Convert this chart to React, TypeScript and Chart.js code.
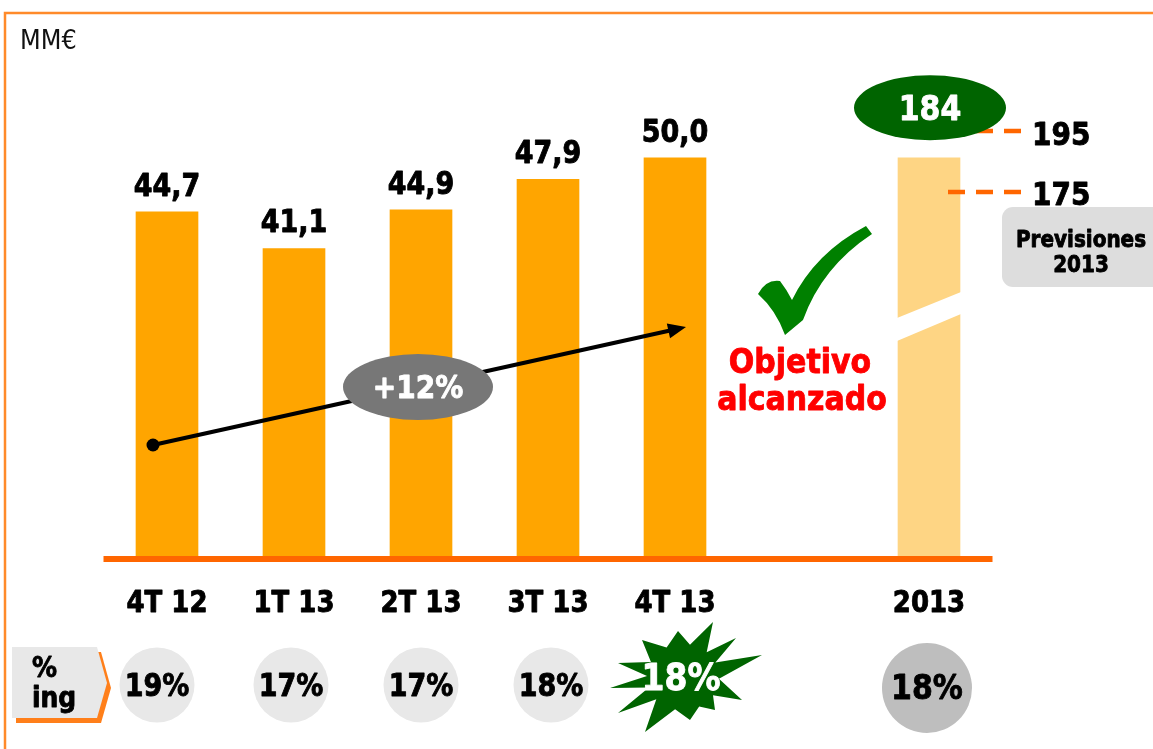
import React, { useEffect, useRef } from "react";
import { Chart, registerables } from "chart.js";
Chart.register(...registerables);

// ---- data ----
const categories = ["4T 12", "1T 13", "2T 13", "3T 13", "4T 13", "", "2013"];
const quarterlyValues = [44.7, 41.1, 44.9, 47.9, 50.0];
const annualValue = 184;
const annualDrawnHeight = 50.0; // broken bar, drawn level with 4T 13
const forecastHigh = 195;
const forecastLow = 175;
const pctIngresos: (number | null)[] = [19, 17, 17, 18, 18, null, 18];
const growthLabel = "+12%";
const unitLabel = "MM€";
const forecastTitle = ["Previsiones", "2013"];
const goalText = ["Objetivo", "alcanzado"];
const pctTitle = ["%", "ing"];

const barData: (number | null)[] = [...quarterlyValues, null, annualDrawnHeight];

const FONT = '"DejaVu Sans", Verdana, sans-serif';
const ORANGE = "#FFA500";
const ORANGE_LIGHT = "#FED584";
const AXIS = "#FF6600";

function txt(
  ctx: CanvasRenderingContext2D,
  s: string,
  x: number,
  y: number,
  size: number,
  color: string,
  align: CanvasTextAlign = "center",
  bold = true,
  sy = 1.15
) {
  ctx.save();
  ctx.font = `${bold ? "bold " : ""}${size}px ${FONT}`;
  ctx.fillStyle = color;
  ctx.strokeStyle = color;
  ctx.lineWidth = bold ? 0.8 : 0;
  ctx.lineJoin = "round";
  ctx.textAlign = align;
  ctx.textBaseline = "alphabetic";
  ctx.translate(x, y);
  ctx.scale(1, sy);
  ctx.fillText(s, 0, 0);
  if (bold) ctx.strokeText(s, 0, 0);
  ctx.restore();
}

function ellipse(ctx: CanvasRenderingContext2D, cx: number, cy: number, rx: number, ry: number, color: string) {
  ctx.save();
  ctx.beginPath();
  ctx.ellipse(cx, cy, rx, ry, 0, 0, Math.PI * 2);
  ctx.fillStyle = color;
  ctx.fill();
  ctx.restore();
}

function poly(ctx: CanvasRenderingContext2D, pts: number[][], color: string) {
  ctx.save();
  ctx.beginPath();
  pts.forEach((p, i) => (i ? ctx.lineTo(p[0], p[1]) : ctx.moveTo(p[0], p[1])));
  ctx.closePath();
  ctx.fillStyle = color;
  ctx.fill();
  ctx.restore();
}

const fmt = (v: number) => v.toFixed(1).replace(".", ",");

const decorPlugin = {
  id: "decor",
  afterDatasetsDraw(chart: any) {
    const ctx: CanvasRenderingContext2D = chart.ctx;
    const area = chart.chartArea;
    const bars = chart.getDatasetMeta(0).data;
    const xs = chart.scales.x;

    // frame
    ctx.save();
    ctx.strokeStyle = "#FF8A2A";
    ctx.lineWidth = 2.5;
    ctx.beginPath();
    ctx.moveTo(5, 749);
    ctx.lineTo(5, 13);
    ctx.lineTo(1153, 13);
    ctx.stroke();
    ctx.restore();

    txt(ctx, unitLabel, 20, 49, 24, "#111", "left", false, 1.1);

    // break in 2013 bar
    const b6 = bars[6];
    const hw = b6.width / 2 + 1;
    poly(ctx, [[b6.x - hw, 341], [b6.x + hw, 314], [b6.x + hw, 292], [b6.x - hw, 318]], "#FFFFFF");

    // axis line
    ctx.fillStyle = AXIS;
    ctx.fillRect(area.left, area.bottom, area.right - area.left, 6);

    // value labels
    quarterlyValues.forEach((v, i) => {
      const b = bars[i];
      txt(ctx, fmt(v), b.x, b.y - 16, 27, "#000");
    });

    // category labels
    categories.forEach((c, i) => {
      if (!c) return;
      txt(ctx, c, xs.getPixelForValue(i), area.bottom + 56, 26, "#000");
    });

    // forecast dashes
    ctx.save();
    ctx.strokeStyle = AXIS;
    ctx.lineWidth = 4.5;
    ctx.setLineDash([17, 11]);
    [131, 192].forEach((y) => {
      ctx.beginPath();
      ctx.moveTo(948, y);
      ctx.lineTo(1022, y);
      ctx.stroke();
    });
    ctx.restore();
    txt(ctx, String(forecastHigh), 1032, 145, 28, "#000", "left");
    txt(ctx, String(forecastLow), 1032, 205, 28, "#000", "left");

    // annual total ellipse
    ellipse(ctx, b6.x + 1, b6.y - 50, 76, 32.5, "#006400");
    txt(ctx, String(annualValue), b6.x + 1, b6.y - 38, 30, "#FFFFFF");

    // forecast box
    ctx.save();
    ctx.beginPath();
    (ctx as any).roundRect(1002, 207, 165, 80, 11);
    ctx.fillStyle = "#DDDDDD";
    ctx.fill();
    ctx.restore();
    txt(ctx, forecastTitle[0], 1081, 247, 20, "#000");
    txt(ctx, forecastTitle[1], 1081, 272, 20, "#000");

    // growth arrow
    const x0 = 153, y0 = 445, x1 = 686, y1 = 327;
    const ang = Math.atan2(y1 - y0, x1 - x0);
    ctx.save();
    ctx.strokeStyle = "#000";
    ctx.fillStyle = "#000";
    ctx.lineWidth = 4;
    ctx.beginPath();
    ctx.moveTo(x0, y0);
    ctx.lineTo(x1 - 14 * Math.cos(ang), y1 - 14 * Math.sin(ang));
    ctx.stroke();
    ctx.beginPath();
    ctx.arc(x0, y0, 6.5, 0, Math.PI * 2);
    ctx.fill();
    ctx.beginPath();
    ctx.moveTo(x1, y1);
    ctx.lineTo(x1 - 18 * Math.cos(ang) + 7.5 * Math.sin(ang), y1 - 18 * Math.sin(ang) - 7.5 * Math.cos(ang));
    ctx.lineTo(x1 - 18 * Math.cos(ang) - 7.5 * Math.sin(ang), y1 - 18 * Math.sin(ang) + 7.5 * Math.cos(ang));
    ctx.closePath();
    ctx.fill();
    ctx.restore();

    ellipse(ctx, 418, 387, 75, 33, "#777777");
    txt(ctx, growthLabel, 418, 398, 28, "#FFFFFF");

    // check mark
    ctx.save();
    ctx.beginPath();
    ctx.moveTo(785, 335);
    ctx.quadraticCurveTo(776, 310, 758, 294);
    ctx.quadraticCurveTo(766, 279, 780, 281);
    ctx.quadraticCurveTo(787, 290, 792, 300);
    ctx.quadraticCurveTo(815, 253, 866, 226);
    ctx.lineTo(872, 234);
    ctx.quadraticCurveTo(822, 267, 803, 320);
    ctx.lineTo(785, 335);
    ctx.closePath();
    ctx.fillStyle = "#008000";
    ctx.fill();
    ctx.restore();

    txt(ctx, goalText[0], 800, 373, 30, "#FF0000");
    txt(ctx, goalText[1], 802, 410, 30, "#FF0000");

    // % ing label
    const g = [[12, 647], [97, 647], [107, 683], [97, 718], [12, 718]];
    poly(ctx, g.map((p) => [p[0] + 4, p[1] + 5]), "#FF7F1A");
    poly(ctx, g, "#E8E8E8");
    txt(ctx, pctTitle[0], 32, 677, 25, "#000", "left");
    txt(ctx, pctTitle[1], 32, 707, 25, "#000", "left");

    // percentages
    const offs = [-10, -3, 0, 3, 8, 0, -2];
    pctIngresos.forEach((p, i) => {
      if (p == null) return;
      const cx = xs.getPixelForValue(i) + offs[i];
      const label = `${p}%`;
      if (i === 4) {
        const cy = 677;
        const outer = [[30, -55], [53, -39], [79, -22], [59, 23], [32, 33], [7, 43], [-38, 55], [-65, 36], [-73, 11], [-65, -14], [-41, -37], [-5, -46]];
        const pts: number[][] = [];
        outer.forEach((o, k) => {
          const n = outer[(k + 1) % outer.length];
          pts.push([cx + o[0], cy + o[1]]);
          let a1 = Math.atan2(o[1], o[0]);
          let a2 = Math.atan2(n[1], n[0]);
          if (a2 < a1) a2 += Math.PI * 2;
          const am = (a1 + a2) / 2;
          pts.push([cx + 36 * Math.cos(am), cy + 33 * Math.sin(am)]);
        });
        poly(ctx, pts, "#006400");
        txt(ctx, label, cx - 2, 690, 33, "#FFFFFF");
      } else if (i === 6) {
        ellipse(ctx, cx, 688, 45, 45, "#BEBEBE");
        txt(ctx, label, cx, 699, 30, "#000");
      } else {
        ellipse(ctx, cx, 685, 37.5, 37.5, "#E8E8E8");
        txt(ctx, label, cx, 696, 27, "#000");
      }
    });
  },
};

export default function App() {
  const ref = useRef<HTMLCanvasElement>(null);
  useEffect(() => {
    if (!ref.current) return;
    const chart = new Chart(ref.current, {
      type: "bar",
      data: {
        labels: categories,
        datasets: [
          {
            data: barData,
            backgroundColor: [ORANGE, ORANGE, ORANGE, ORANGE, ORANGE, "rgba(0,0,0,0)", ORANGE_LIGHT],
            borderWidth: 0,
            barThickness: 62,
          },
        ],
      },
      options: {
        responsive: false,
        animation: false,
        layout: { padding: { left: 103.5, right: 160.5, top: 56, bottom: 193 } },
        scales: {
          x: { type: "category", offset: true, display: false },
          y: { min: 10.9, max: 60, display: false },
        },
        plugins: { legend: { display: false }, tooltip: { enabled: false } },
      },
      plugins: [decorPlugin],
    });
    return () => chart.destroy();
  }, []);
  return (
    <canvas
      ref={ref}
      width={1153}
      height={749}
      style={{ position: "absolute", left: 0, top: 0, background: "#fff" }}
    />
  );
}
